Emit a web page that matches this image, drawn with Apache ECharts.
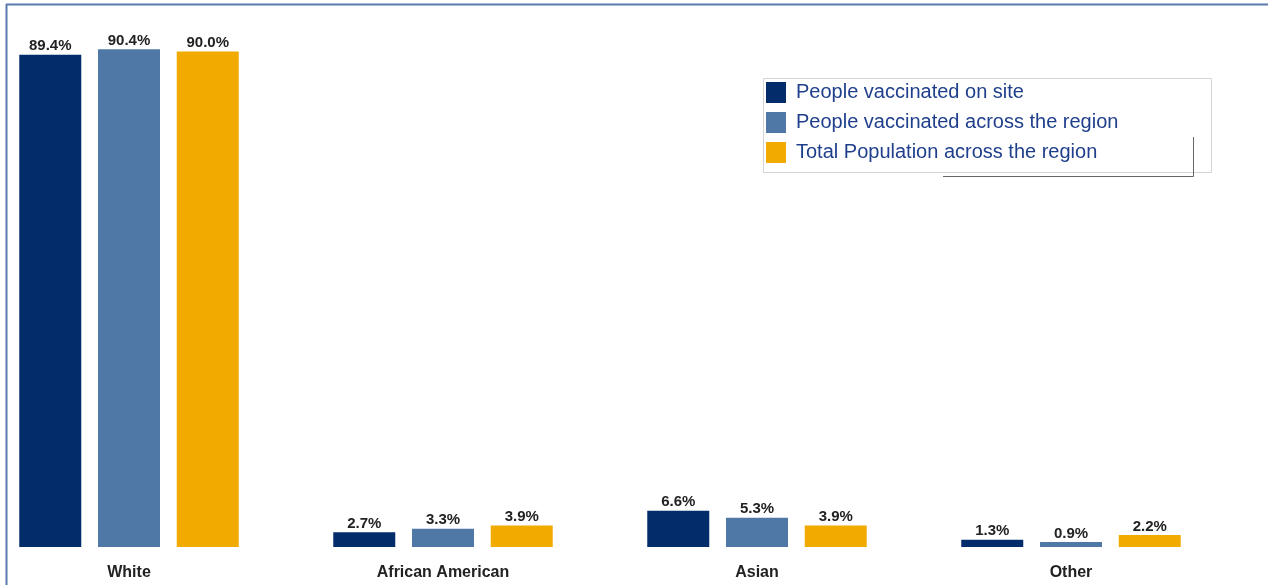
<!DOCTYPE html>
<html>
<head>
<meta charset="utf-8">
<script src="https://cdn.jsdelivr.net/npm/echarts@6/dist/echarts.min.js"></script>
<style>
html,body{margin:0;padding:0;background:#fff;}
#c{width:1268px;height:585px;}
</style>
</head>
<body>
<div id="c"></div>
<script>
const categories = ["White", "African American", "Asian", "Other"];
const seriesNames = ["People vaccinated on site", "People vaccinated across the region", "Total Population across the region"];
const onSite = [89.4, 2.7, 6.6, 1.3];
const acrossRegion = [90.4, 3.3, 5.3, 0.9];
const totalPopulation = [90.0, 3.9, 3.9, 2.2];
const colors = ["#032c6b", "#4f78a6", "#f1aa00"];

const chart = echarts.init(document.getElementById('c'), null, {renderer: 'canvas'});
const values = [onSite, acrossRegion, totalPopulation];
const series = values.map((v, i) => ({
  name: seriesNames[i],
  type: 'bar',
  data: v,
  barWidth: 62,
  barGap: '27%',
  itemStyle: {color: colors[i]},
  label: {
    show: true,
    position: 'top',
    distance: 1,
    formatter: p => p.value.toFixed(1) + '%',
    fontFamily: 'Liberation Sans, Arial, sans-serif',
    fontWeight: 'bold',
    fontSize: 15,
    color: '#222'
  }
}));

chart.setOption({
  animation: false,
  backgroundColor: '#fff',
  grid: {left: 129, width: 942, top: 24, bottom: 38},
  xAxis: {
    type: 'category',
    data: categories,
    boundaryGap: false,
    axisLine: {show: false},
    axisTick: {show: false},
    splitLine: {show: false},
    axisLabel: {
      margin: 18,
      fontFamily: 'Liberation Sans, Arial, sans-serif',
      fontWeight: 'bold',
      fontSize: 16,
      color: '#222'
    }
  },
  yAxis: {
    type: 'value',
    min: 0,
    max: 95,
    show: false,
    splitLine: {show: false}
  },
  legend: {
    orient: 'vertical',
    left: 766,
    top: 82,
    padding: 0,
    itemWidth: 20,
    itemHeight: 21,
    itemGap: 9,
    icon: 'rect',
    selectedMode: false,
    data: seriesNames,
    textStyle: {
      fontFamily: 'Liberation Sans, Arial, sans-serif',
      fontSize: 20,
      color: '#1f3f8c',
      padding: [4, 0, 0, 5]
    }
  },
  graphic: [
    {type: 'rect', shape: {x: 763.5, y: 78.5, width: 448, height: 94}, style: {fill: 'none', stroke: '#d4d4d4', lineWidth: 1}, z: 0},
    {type: 'polyline', shape: {points: [[943, 176.5], [1193.5, 176.5], [1193.5, 137]]}, style: {fill: 'none', stroke: '#666', lineWidth: 1}, z: 0},
    {type: 'line', shape: {x1: 6, y1: 4.5, x2: 1268, y2: 4.5}, style: {stroke: '#5a7bb0', lineWidth: 2}},
    {type: 'line', shape: {x1: 6.5, y1: 4, x2: 6.5, y2: 585}, style: {stroke: '#5a7bb0', lineWidth: 2}}
  ],
  series: series
});
</script>
</body>
</html>
